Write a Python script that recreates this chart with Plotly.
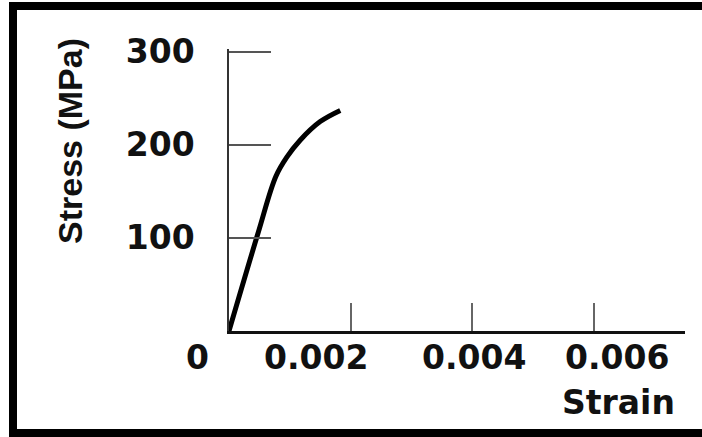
import plotly.graph_objects as go

# Data
strain = [0, 0.000477, 0.00077, 0.000954, 0.00117, 0.0015, 0.00183]
stress = [0, 105, 166, 187, 205, 225, 237]

y_ticks = [100, 200, 300]
y_tick_labels = ["100", "200", "300"]
x_ticks = [0.002, 0.004, 0.006]
x_label_vals = [0, 0.002, 0.004, 0.006]
x_label_text = ["0", "0.002", "0.004", "0.006"]
x_title = "Strain"
y_title = "Stress (MPa)"

# Styling (label offsets in px relative to their tick)
x_label_shifts = [-32, -35, 2, 23]

W, H = 702, 437
L, R, T, B = 229, 17, 49, 106
pw, ph = W - L - R, H - T - B

TICK_FONT = dict(family="DejaVu Sans", size=33, color="#111")
TICK_FONT_B = "<b>{}</b>"

fig = go.Figure()
fig.add_trace(go.Scatter(
    x=strain, y=stress, mode="lines",
    line=dict(color="black", width=5, shape="spline", smoothing=1.0),
    hoverinfo="skip", showlegend=False,
))

fig.update_layout(
    width=W, height=H,
    margin=dict(l=L, r=R, t=T, b=B, pad=0),
    paper_bgcolor="white", plot_bgcolor="white",
    showlegend=False,
    xaxis=dict(
        range=[0, 0.0075], showgrid=False, zeroline=False,
        showline=True, linecolor="#111", linewidth=2.5,
        ticks="inside", tickvals=x_ticks, ticklen=28, tickwidth=1.5,
        tickcolor="#666", showticklabels=False,
    ),
    yaxis=dict(
        range=[0, 303], showgrid=False, zeroline=False,
        showline=True, linecolor="#333", linewidth=1.5,
        ticks="inside", tickvals=y_ticks,
        ticktext=[TICK_FONT_B.format(t) for t in y_tick_labels],
        ticklen=42, tickwidth=1.5, tickcolor="#555",
        tickfont=TICK_FONT, ticklabelstandoff=26,
    ),
)

for v, t, s in zip(x_label_vals, x_label_text, x_label_shifts):
    fig.add_annotation(
        x=v, y=0, xref="x", yref="paper", text=TICK_FONT_B.format(t),
        showarrow=False, xanchor="center", yanchor="middle",
        xshift=s, yshift=-26, font=TICK_FONT,
    )

fig.add_annotation(
    x=1, y=0, xref="paper", yref="paper", text="<b>" + x_title + "</b>",
    showarrow=False, xanchor="right", yanchor="middle",
    xshift=-8, yshift=-71, font=TICK_FONT,
)

fig.add_annotation(
    x=(70 - L) / pw, y=(331 - 141) / ph, xref="paper", yref="paper",
    text="<b>" + y_title + "</b>", textangle=-90, showarrow=False,
    xanchor="center", yanchor="middle",
    font=dict(family="Liberation Sans", size=34, color="#111"),
)

# Outer black frame (left, top, bottom edges visible)
fig.add_shape(
    type="rect", xref="paper", yref="paper",
    x0=(13 - L) / pw, x1=(720 - L) / pw,
    y0=(331 - 433) / ph, y1=(331 - 6) / ph,
    line=dict(color="black", width=8), fillcolor="rgba(0,0,0,0)",
    layer="above",
)

fig.write_html(
    "out.html",
    config={"displayModeBar": False},
    post_script="document.body.style.margin='0';document.body.style.overflow='hidden';",
)
